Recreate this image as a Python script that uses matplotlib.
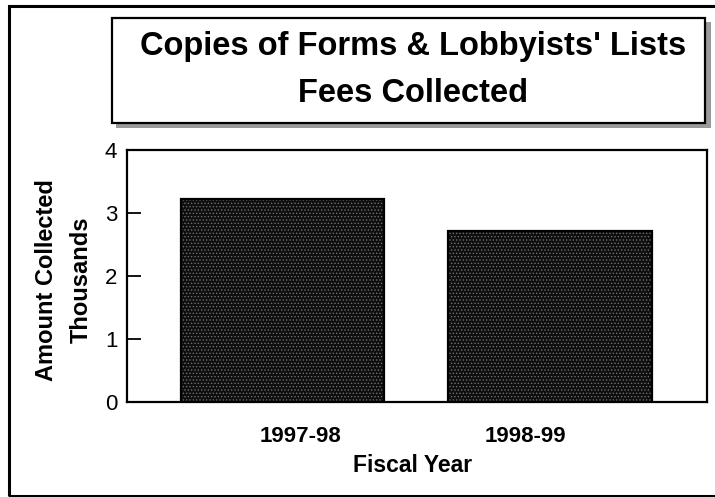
import matplotlib
matplotlib.use("Agg")
import matplotlib.pyplot as plt
from matplotlib.patches import Rectangle
import matplotlib.transforms as mtransforms

plt.rcParams['font.family'] = ['Liberation Sans', 'DejaVu Sans']
plt.rcParams['hatch.linewidth'] = 0.6

categories = ["1997-98", "1998-99"]
values = [3.22, 2.72]
yticks = [0, 1, 2, 3, 4]
title_lines = ["Copies of Forms & Lobbyists' Lists", "Fees Collected"]
xlabel = "Fiscal Year"
ylabel = "Amount Collected\nThousands"

W, H = 715, 497
fig = plt.figure(figsize=(W / 100, H / 100), dpi=100)

def fx(px):
    return px / W

def fy(py):
    return 1 - py / H

# outer frame
fig.patches.append(Rectangle((fx(9), fy(496)), fx(720) - fx(9), fy(6) - fy(496),
                             transform=fig.transFigure, fill=False,
                             edgecolor='black', linewidth=2.2, clip_on=False))

# title box shadow
fig.patches.append(Rectangle((fx(116), fy(128)), fx(711) - fx(116), fy(123) - fy(128),
                             transform=fig.transFigure, facecolor='#9a9a9a',
                             edgecolor='none', hatch='||||', clip_on=False))
fig.patches.append(Rectangle((fx(705), fy(128)), fx(711) - fx(705), fy(22) - fy(128),
                             transform=fig.transFigure, facecolor='#9a9a9a',
                             edgecolor='none', hatch='----', clip_on=False))
# title box
fig.patches.append(Rectangle((fx(112), fy(123)), fx(705) - fx(112), fy(18) - fy(123),
                             transform=fig.transFigure, facecolor='white',
                             edgecolor='black', linewidth=1.6, clip_on=False))
fig.text(fx(413), fy(47), title_lines[0], ha='center', va='center',
         fontsize=23.5, fontweight='bold')
fig.text(fx(413), fy(94), title_lines[1], ha='center', va='center',
         fontsize=23.5, fontweight='bold')

# axes
left, right, top, bottom = 127, 707, 150, 402
ax = fig.add_axes([fx(left), fy(bottom), fx(right) - fx(left), fy(top) - fy(bottom)])
x = list(range(len(categories)))
ax.bar(x, values, width=0.76, color='#0e0e0e', edgecolor='#707070',
       hatch='.....', linewidth=0, zorder=2)
ax.bar(x, values, width=0.76, fill=False, edgecolor='black', linewidth=1.6, zorder=3)
ax.set_xlim(-0.58, 1.585)
ax.set_ylim(0, 4)
ax.set_yticks(yticks)
ax.set_yticklabels([str(t) for t in yticks], fontsize=16)
ax.set_xticks(x)
ax.set_xticklabels(categories, fontsize=16, fontweight='bold')
ax.tick_params(axis='y', direction='in', length=10, width=1.3, pad=7)
ax.tick_params(axis='x', length=0, pad=17)
offsets = [18, -25]
for lab, dx in zip(ax.get_xticklabels(), offsets):
    lab.set_transform(lab.get_transform() +
                      mtransforms.ScaledTranslation(dx / 100, 0, fig.dpi_scale_trans))
for s in ax.spines.values():
    s.set_linewidth(1.6)

fig.text(fx(413), fy(466), xlabel, ha='center', va='center',
         fontsize=16.5, fontweight='bold')
fig.text(fx(64), fy(280), ylabel, ha='center', va='center', rotation=90,
         fontsize=17, fontweight='bold', linespacing=1.65)

fig.savefig("out.png", dpi=100)
